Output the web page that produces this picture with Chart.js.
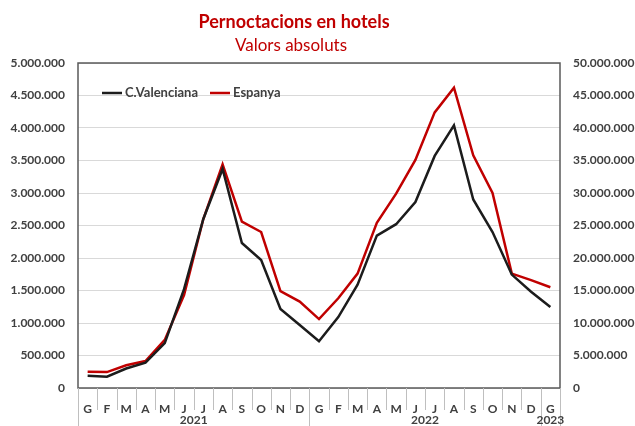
<!DOCTYPE html>
<html>
<head>
<meta charset="utf-8">
<script src="https://cdn.jsdelivr.net/npm/chart.js@4.4.1/dist/chart.umd.min.js"></script>
<style>
  html, body { margin: 0; padding: 0; background: #fff; }
  #wrap { width: 635px; height: 426px; }
</style>
</head>
<body>
<div id="wrap"><canvas id="chart" width="635" height="426"></canvas></div>
<script>
const months = ["G","F","M","A","M","J","J","A","S","O","N","D",
                "G","F","M","A","M","J","J","A","S","O","N","D","G"];
const yearLabels = ["2021", "2022", "2023"];
const yearSpans = [12, 12, 1];

// C.Valenciana (eix esquerre)
const valenciana = [190000, 175000, 300000, 390000, 690000, 1520000, 2600000, 3370000,
  2230000, 1970000, 1215000, 970000, 720000, 1090000, 1590000, 2345000, 2520000,
  2860000, 3570000, 4040000, 2900000, 2400000, 1745000, 1480000, 1245000];
// Espanya (eix dret)
const espanya = [2500000, 2450000, 3500000, 4150000, 7400000, 14300000, 26000000, 34400000,
  25600000, 24000000, 14900000, 13300000, 10600000, 13800000, 17600000, 25400000, 29900000,
  35100000, 42400000, 46200000, 35800000, 30000000, 17600000, 16600000, 15500000];

const FONT = "Lato, 'Open Sans', sans-serif";
const TXT = "#404040";

function fmt(v) {
  return String(Math.round(v)).replace(/\B(?=(\d{3})+(?!\d))/g, ".");
}

const decor = {
  id: "decor",
  afterDraw(chart) {
    const ctx = chart.ctx;
    const area = chart.chartArea;
    const x = chart.scales.x;
    ctx.save();

    // títol
    ctx.fillStyle = "#C00000";
    ctx.textAlign = "center";
    ctx.textBaseline = "middle";
    ctx.font = "bold 18px " + FONT;
    ctx.fillText("Pernoctacions en hotels", 294, 22);
    ctx.font = "17px " + FONT;
    ctx.fillText("Valors absoluts", 291, 46);

    // marc de l'àrea
    ctx.strokeStyle = "#595959";
    ctx.lineWidth = 1.5;
    ctx.strokeRect(area.left, area.top, area.right - area.left, area.bottom - area.top);

    // separadors de mesos i anys
    const step = (area.right - area.left) / months.length;
    ctx.strokeStyle = "#bfbfbf";
    ctx.lineWidth = 1;
    const yearEdges = [0];
    let acc = 0;
    yearSpans.forEach(n => { acc += n; yearEdges.push(acc); });
    for (let i = 0; i <= months.length; i++) {
      const px = Math.round(area.left + i * step) + 0.5;
      const long = yearEdges.includes(i);
      ctx.beginPath();
      ctx.moveTo(px, area.bottom);
      ctx.lineTo(px, long ? chart.height : area.bottom + 22);
      ctx.stroke();
    }

    // etiquetes d'any
    ctx.fillStyle = TXT;
    ctx.font = "bold 12px " + FONT;
    ctx.textAlign = "center";
    let start = 0;
    yearLabels.forEach((lab, k) => {
      const a = x.getPixelForValue(start) - step / 2;
      const b = x.getPixelForValue(start + yearSpans[k] - 1) + step / 2;
      ctx.fillText(lab, (a + b) / 2, area.bottom + 32);
      start += yearSpans[k];
    });

    // llegenda
    let lx = area.left + 24;
    const ly = area.top + 30;
    ctx.textAlign = "left";
    ctx.font = "bold 13px " + FONT;
    chart.data.datasets.forEach(ds => {
      ctx.strokeStyle = ds.borderColor;
      ctx.lineWidth = 2.5;
      ctx.beginPath();
      ctx.moveTo(lx, ly);
      ctx.lineTo(lx + 20, ly);
      ctx.stroke();
      ctx.fillStyle = TXT;
      ctx.fillText(ds.label, lx + 23, ly);
      lx += 23 + ctx.measureText(ds.label).width + 12;
    });
    ctx.restore();
  }
};

new Chart(document.getElementById("chart"), {
  type: "line",
  data: {
    labels: months,
    datasets: [
      {
        label: "C.Valenciana",
        data: valenciana,
        yAxisID: "y",
        borderColor: "#1c1c1c",
        backgroundColor: "#1c1c1c",
        borderWidth: 2.5,
        pointRadius: 0,
        tension: 0
      },
      {
        label: "Espanya",
        data: espanya,
        yAxisID: "y1",
        borderColor: "#C00000",
        backgroundColor: "#C00000",
        borderWidth: 2.5,
        pointRadius: 0,
        tension: 0
      }
    ]
  },
  options: {
    responsive: false,
    animation: false,
    layout: { padding: { top: 63, left: 0, right: 0, bottom: 0 } },
    plugins: {
      legend: { display: false },
      title: { display: false },
      tooltip: { enabled: false }
    },
    scales: {
      x: {
        offset: true,
        grid: { display: false },
        border: { display: false },
        ticks: {
          color: TXT,
          font: { family: FONT, size: 12, weight: "bold" },
          padding: 6,
          maxRotation: 0,
          autoSkip: false
        },
        afterFit(scale) { scale.height = 38; }
      },
      y: {
        position: "left",
        min: 0,
        max: 5000000,
        grid: { color: "#d9d9d9", lineWidth: 1, drawTicks: false },
        border: { display: false },
        ticks: {
          stepSize: 500000,
          color: TXT,
          font: { family: FONT, size: 12, weight: "bold" },
          padding: 13,
          callback: v => fmt(v)
        },
        afterFit(scale) { scale.width = 78; }
      },
      y1: {
        position: "right",
        min: 0,
        max: 50000000,
        grid: { display: false, drawTicks: false },
        border: { display: false },
        ticks: {
          stepSize: 5000000,
          color: TXT,
          font: { family: FONT, size: 12, weight: "bold" },
          padding: 13,
          callback: v => fmt(v)
        },
        afterFit(scale) { scale.width = 75; }
      }
    }
  },
  plugins: [decor]
});
</script>
</body>
</html>
